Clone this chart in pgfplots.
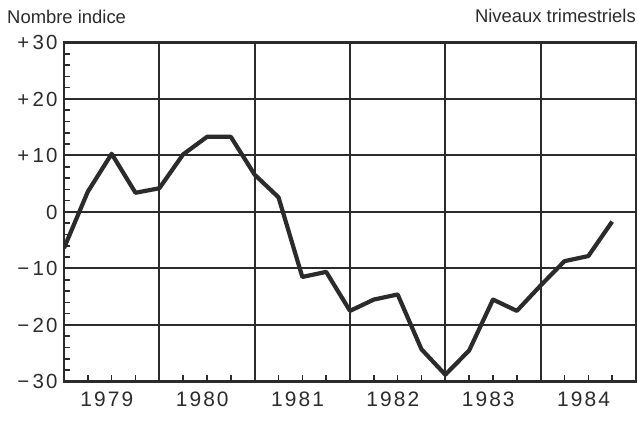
\documentclass[border=0pt]{standalone}
\usepackage{fontspec}
\setmainfont{Liberation Sans}
\newfontfamily\numfont[LetterSpace=10]{Liberation Sans}
\usepackage{pgfplots}
\pgfplotsset{compat=1.18}
\usetikzlibrary{calc}
\definecolor{ink}{HTML}{2B2B2B}
\begin{document}
\begin{tikzpicture}
\begin{axis}[
  scale only axis, width=572bp, height=339bp,
  xmin=1979, xmax=1985, ymin=-30, ymax=30,
  axis line style={ink, line width=2.8bp},
  /pgf/number format/assume math mode=true,
  xtick={1979,1980,1981,1982,1983,1984,1985}, xticklabels={},
  minor x tick num=3,
  extra x ticks={1979.45,1980.45,1981.45,1982.45,1983.45,1984.45},
  extra x tick labels={1979,1980,1981,1982,1983,1984},
  extra x tick style={grid=none, major tick length=0pt,
     tick label style={font=\numfont\fontsize{21}{25}\selectfont, text=ink, yshift=-7bp}},
  ytick={-30,-20,-10,0,10,20,30},
  yticklabels={−\,30,−\,20,−\,10,0,+\,10,+\,20,+\,30},
  minor y tick num=4,
  yticklabel style={font=\numfont\fontsize{20.5}{24}\selectfont, text=ink, xshift=-3bp},
  xtick pos=left, ytick pos=left,
  tick align=inside,
  major tick length=0pt, minor tick length=6bp,
  tick style={ink, line width=1.6bp},
  xmajorgrids, ymajorgrids,
  major grid style={ink, line width=2bp},
]
\addplot[ink, line width=4.2bp, line join=round] coordinates {
(1979.00,-6.4) (1979.25,3.6) (1979.50,10.3) (1979.75,3.4)
(1980.00,4.2) (1980.25,10.2) (1980.50,13.3) (1980.75,13.3)
(1981.00,6.6) (1981.25,2.6) (1981.50,-11.5) (1981.75,-10.6)
(1982.00,-17.5) (1982.25,-15.5) (1982.50,-14.6) (1982.75,-24.3)
(1983.00,-28.8) (1983.25,-24.5) (1983.50,-15.5) (1983.75,-17.5)
(1984.00,-13.0) (1984.25,-8.7) (1984.50,-7.8) (1984.75,-1.7)
};
\end{axis}
\node[anchor=base west, font=\fontsize{18.5}{22}\selectfont, text=ink, inner sep=0pt] at ($(current axis.north west)+(-57bp,19bp)$) {Nombre indice};
\node[anchor=base east, font=\fontsize{18.5}{22}\selectfont, text=ink, inner sep=0pt] at ($(current axis.north east)+(0bp,20bp)$) {Niveaux trimestriels};
\pgfresetboundingbox
\path ($(current axis.south west)+(-64bp,-39.5bp)$) rectangle ($(current axis.north east)+(2bp,42.5bp)$);
\end{tikzpicture}
\end{document}
